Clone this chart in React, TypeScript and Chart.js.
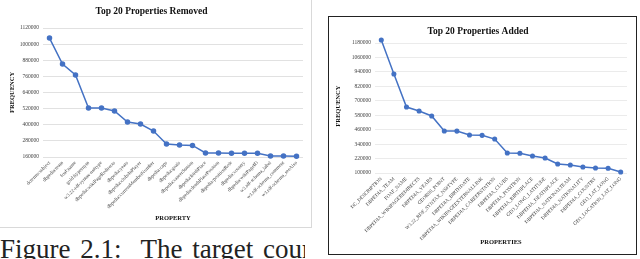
import React, { useEffect, useRef } from "react";
import { Chart, registerables } from "chart.js";

Chart.register(...registerables);

// ---------- Left chart: Top 20 Properties Removed ----------
const removedLabels = [
  "dcterms:subject",
  "dbpedia:team",
  "foaf:name",
  "gold:hypernym",
  "w3.22-rdf-syntax-ns#type",
  "dbpedia:wikiPageRedirects",
  "dbpedia:years",
  "dbpedia:clubsInPlayer",
  "dbpedia:currentMemberNumber",
  "dbpedia:caps",
  "dbpedia:goals",
  "dbpedia:careerStation",
  "dbpedia:birthPlace",
  "dbpedia:deathPlacePosition",
  "dbpedia:positionRole",
  "dbpedia:country",
  "dbpedia:wikiPageID",
  "w3.rdf-schema_label",
  "w3.rdf-schema_comment",
  "w3.rdf-schema_seeAlso",
];
const removedValues = [
  1045000, 852000, 770000, 525000, 524000, 502000, 420000, 405000, 353000,
  257000, 249000, 246000, 190000, 189000, 188000, 188000, 187000, 167000,
  167000, 166000,
];
const removedTicks = [
  160000, 280000, 400000, 520000, 640000, 760000, 880000, 1000000, 1120000,
];

// ---------- Right chart: Top 20 Properties Added ----------
const addedLabels = [
  "DC_DESCRIPTION",
  "DBPEDIA_TEAM",
  "FOAF_NAME",
  "DBPEDIA_WIKIPAGEREDIRECTS",
  "DBPEDIA_YEARS",
  "GEORSS_POINT",
  "W3.22_RDF_SYNTAX_NS#TYPE",
  "DBPEDIA_BIRTHDATE",
  "DBPEDIA_WIKIPAGEEXTERNALLINK",
  "DBPEDIA_CAREERSTATION",
  "DBPEDIA_CLUBS",
  "DBPEDIA_POSITION",
  "DBPEDIA_BIRTHPLACE",
  "GEO_LONG_LATITUDE",
  "DBPEDIA_DEATHPLACE",
  "DBPEDIA_NATIONALTEAM",
  "DBPEDIA_NATIONALITY",
  "DBPEDIA_COUNTRY",
  "GEO_LAT_LONG",
  "GEO_LOCATION_LAT_LONG",
];
const addedValues = [
  1205000, 922000, 648000, 615000, 574000, 449000, 448000, 416000, 413000,
  382000, 266000, 264000, 241000, 225000, 175000, 166000, 150000, 142000,
  140000, 108000,
];
const addedTicks = [
  100000, 220000, 340000, 460000, 580000, 700000, 820000, 940000, 1060000,
  1180000,
];

const LINE = "#4472C4";
const SERIF = "'Liberation Serif', 'Times New Roman', serif";

function makeConfig(opts: any) {
  const {
    labels,
    values,
    ticks,
    min,
    max,
    title,
    xTitle,
    gridColor,
    layoutPadding,
    titlePadding,
    yWidth,
    xHeight,
    yTickSize,
    xTickSize,
    yTitlePad,
    xTitlePad,
    pointRadius,
  } = opts;
  return {
    type: "line" as const,
    data: {
      labels,
      datasets: [
        {
          data: values,
          borderColor: LINE,
          backgroundColor: LINE,
          borderWidth: 1.5,
          pointRadius,
          pointBackgroundColor: LINE,
          pointBorderColor: LINE,
          tension: 0,
          clip: false as any,
        },
      ],
    },
    options: {
      responsive: false,
      animation: false as const,
      layout: { padding: layoutPadding },
      plugins: {
        legend: { display: false },
        tooltip: { enabled: false },
        title: {
          display: true,
          text: title,
          color: "#111",
          font: { family: SERIF, size: 9.5, weight: "bold" as const },
          padding: titlePadding,
        },
      },
      scales: {
        x: {
          offset: true,
          grid: { display: false, drawTicks: false },
          border: { display: false },
          ticks: {
            autoSkip: false,
            minRotation: 45,
            maxRotation: 45,
            padding: 3,
            color: "#444",
            font: { family: SERIF, size: xTickSize },
          },
          title: {
            display: true,
            text: xTitle,
            color: "#111",
            font: { family: SERIF, size: 6.5, weight: "bold" as const },
            padding: xTitlePad,
          },
          afterFit: (s: any) => {
            s.height = xHeight;
          },
        },
        y: {
          min,
          max,
          grid: { color: gridColor, lineWidth: 0.8, drawTicks: false },
          border: { display: false },
          ticks: {
            padding: 4,
            color: "#444",
            font: { family: SERIF, size: yTickSize },
            callback: (v: any) => String(v),
          },
          afterBuildTicks: (s: any) => {
            s.ticks = ticks.map((v: number) => ({ value: v }));
          },
          title: {
            display: true,
            text: "FREQUENCY",
            color: "#111",
            font: { family: SERIF, size: 6.5, weight: "bold" as const },
            padding: yTitlePad,
          },
          afterFit: (s: any) => {
            s.width = yWidth;
          },
        },
      },
    },
  };
}

function LineChart(props: any) {
  const ref = useRef<HTMLCanvasElement>(null);
  useEffect(() => {
    if (!ref.current) return;
    const chart = new Chart(ref.current, makeConfig(props.cfg) as any);
    return () => chart.destroy();
  }, []);
  return (
    <canvas
      ref={ref}
      width={props.w}
      height={props.h}
      style={{ position: "absolute", left: props.x, top: props.y, width: props.w, height: props.h }}
    />
  );
}

export default function App() {
  const leftCfg = {
    labels: removedLabels,
    values: removedValues,
    ticks: removedTicks,
    min: 160000,
    max: 1120000,
    title: "Top 20 Properties Removed",
    xTitle: "PROPERTY",
    gridColor: "#d9d9d9",
    layoutPadding: { left: 0, right: 8, top: 1, bottom: 3 },
    titlePadding: { top: 5.3, bottom: 10.3 },
    yWidth: 43,
    xHeight: 67,
    yTickSize: 5.5,
    xTickSize: 5,
    yTitlePad: { top: 8, bottom: 0 },
    xTitlePad: { top: 2, bottom: 2 },
    pointRadius: 2,
  };
  const rightCfg = {
    labels: addedLabels,
    values: addedValues,
    ticks: addedTicks,
    min: 100000,
    max: 1210000,
    title: "Top 20 Properties Added",
    xTitle: "PROPERTIES",
    gridColor: "#e6e6e6",
    layoutPadding: { left: 0, right: 9, top: 3, bottom: 6 },
    titlePadding: { top: 6.3, bottom: 1.7 },
    yWidth: 46,
    xHeight: 75,
    yTickSize: 5.5,
    xTickSize: 5,
    yTitlePad: { top: 5.8, bottom: 0 },
    xTitlePad: { top: 2, bottom: 2 },
    pointRadius: 1.8,
  };
  return (
    <div
      style={{
        position: "absolute",
        left: 0,
        top: 0,
        width: 640,
        height: 259,
        background: "#fff",
        overflow: "hidden",
      }}
    >
      <div
        style={{
          position: "absolute",
          left: -1,
          top: -1,
          width: 311,
          height: 227,
          border: "1px solid #d9d9d9",
        }}
      />
      <LineChart x={0} y={0} w={311} h={227} cfg={leftCfg} />
      <div
        style={{
          position: "absolute",
          left: 328,
          top: 16,
          width: 307,
          height: 237,
          border: "1px solid #222",
        }}
      />
      <LineChart x={329} y={17} w={307} h={237} cfg={rightCfg} />
      <div
        style={{
          position: "absolute",
          left: 0,
          top: 234,
          width: 305,
          height: 30,
          overflow: "hidden",
          whiteSpace: "nowrap",
          fontFamily: SERIF,
          fontSize: 27,
          lineHeight: "30px",
          wordSpacing: 3,
          color: "#222",
        }}
      >
        Figure 2.1:&nbsp; The target count of
      </div>
    </div>
  );
}
